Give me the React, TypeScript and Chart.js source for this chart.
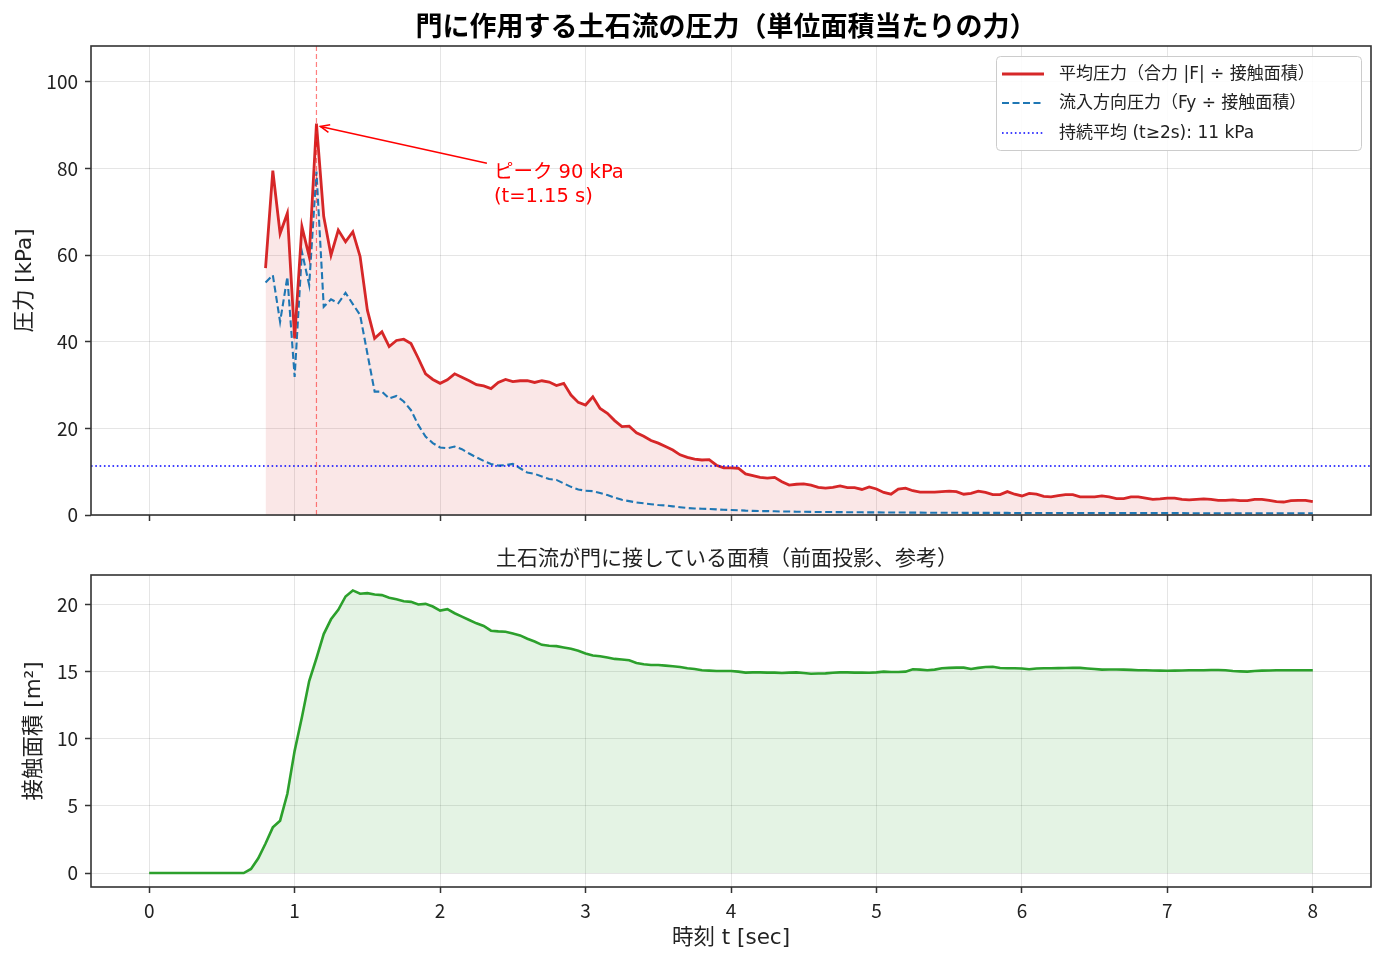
import React, { useEffect, useRef } from "react";
import { Chart, registerables } from "chart.js";

Chart.register(...registerables);

// ---------------- DATA ----------------
const T_AREA = [
  0, 0.05, 0.1, 0.15, 0.2, 0.25, 0.3, 0.35, 0.4, 0.45, 0.5, 0.55, 0.6, 0.65, 0.7, 0.75, 0.8, 0.85, 0.9, 0.95,
  1.0, 1.05, 1.1, 1.15, 1.2, 1.25, 1.3, 1.35, 1.4, 1.45, 1.5, 1.55, 1.6, 1.65, 1.7, 1.75, 1.8, 1.85, 1.9, 1.95,
  2.0, 2.05, 2.1, 2.15, 2.2, 2.25, 2.3, 2.35, 2.4, 2.45, 2.5, 2.55, 2.6, 2.65, 2.7, 2.75, 2.8, 2.85, 2.9, 2.95,
  3.0, 3.05, 3.1, 3.15, 3.2, 3.25, 3.3, 3.35, 3.4, 3.45, 3.5, 3.55, 3.6, 3.65, 3.7, 3.75, 3.8, 3.85, 3.9, 3.95,
  4.0, 4.05, 4.1, 4.15, 4.2, 4.25, 4.3, 4.35, 4.4, 4.45, 4.5, 4.55, 4.6, 4.65, 4.7, 4.75, 4.8, 4.85, 4.9, 4.95,
  5.0, 5.05, 5.1, 5.15, 5.2, 5.25, 5.3, 5.35, 5.4, 5.45, 5.5, 5.55, 5.6, 5.65, 5.7, 5.75, 5.8, 5.85, 5.9, 5.95,
  6.0, 6.05, 6.1, 6.15, 6.2, 6.25, 6.3, 6.35, 6.4, 6.45, 6.5, 6.55, 6.6, 6.65, 6.7, 6.75, 6.8, 6.85, 6.9, 6.95,
  7.0, 7.05, 7.1, 7.15, 7.2, 7.25, 7.3, 7.35, 7.4, 7.45, 7.5, 7.55, 7.6, 7.65, 7.7, 7.75, 7.8, 7.85, 7.9, 7.95,
  8.0,
];

// pressure samples start at t = 0.8 s
const T_PRESSURE = T_AREA.slice(16);

// 平均圧力（合力 |F| ÷ 接触面積） [kPa]
const P_MEAN = [
  57.0, 79.5, 65.0, 69.7, 40.8, 66.6, 59.7, 90.4, 68.9, 60.0, 65.8, 63.1, 65.4, 59.7, 47.3, 40.8, 42.3, 38.9, 40.3, 40.6,
  39.6, 36.2, 32.6, 31.3, 30.4, 31.2, 32.6, 31.8, 31.0, 30.1, 29.8, 29.2, 30.6, 31.3, 30.8, 31.0, 31.0, 30.6, 31.0, 30.7,
  29.9, 30.4, 27.7, 26.0, 25.4, 27.3, 24.6, 23.5, 21.8, 20.4, 20.5, 19.0, 18.2, 17.2, 16.6, 15.8, 15.0, 13.9, 13.3, 12.9,
  12.7, 12.8, 11.5, 10.9, 10.9, 10.8, 9.5, 9.1, 8.7, 8.5, 8.7, 7.7, 6.9, 7.1, 7.2, 6.9, 6.4, 6.2, 6.4, 6.7,
  6.3, 6.3, 5.9, 6.5, 6.0, 5.2, 4.8, 6.0, 6.2, 5.6, 5.3, 5.3, 5.3, 5.4, 5.5, 5.4, 4.8, 5.0, 5.5, 5.2,
  4.7, 4.7, 5.4, 4.8, 4.4, 5.0, 4.8, 4.3, 4.2, 4.5, 4.7, 4.7, 4.2, 4.2, 4.2, 4.4, 4.2, 3.8, 3.8, 4.2,
  4.2, 3.9, 3.6, 3.7, 3.9, 3.9, 3.6, 3.5, 3.6, 3.7, 3.6, 3.4, 3.4, 3.5, 3.3, 3.3, 3.6, 3.6, 3.4, 3.1,
  3.0, 3.3, 3.4, 3.4, 3.1,
];

// 流入方向圧力（Fy ÷ 接触面積） [kPa]
const P_FLOW = [
  53.7, 55.4, 44.6, 55.0, 31.9, 60.8, 53.1, 79.3, 48.1, 49.8, 48.9, 51.3, 48.7, 46.2, 37.3, 28.5, 28.5, 26.9, 27.5, 26.2,
  24.2, 20.8, 18.1, 16.6, 15.6, 15.4, 15.8, 15.2, 14.2, 13.3, 12.5, 11.8, 11.4, 11.5, 11.8, 10.8, 9.8, 9.5, 8.9, 8.3,
  8.1, 7.3, 6.5, 5.9, 5.6, 5.5, 5.1, 4.6, 4.0, 3.5, 3.2, 2.9, 2.7, 2.5, 2.3, 2.2, 2.0, 1.8, 1.6, 1.5,
  1.45, 1.4, 1.3, 1.2, 1.15, 1.1, 1.0, 0.95, 0.9, 0.9, 0.85, 0.8, 0.8, 0.75, 0.75, 0.72, 0.7, 0.7, 0.68, 0.66,
  0.65, 0.63, 0.62, 0.6, 0.6, 0.58, 0.57, 0.56, 0.56, 0.55, 0.54, 0.53, 0.53, 0.52, 0.52, 0.51, 0.5, 0.5, 0.5, 0.49,
  0.48, 0.48, 0.48, 0.47, 0.47, 0.47, 0.46, 0.46, 0.46, 0.46, 0.45, 0.45, 0.45, 0.45, 0.45, 0.44, 0.44, 0.44, 0.44, 0.44,
  0.44, 0.43, 0.43, 0.43, 0.43, 0.43, 0.43, 0.42, 0.42, 0.42, 0.42, 0.42, 0.42, 0.42, 0.41, 0.41, 0.41, 0.41, 0.41, 0.41,
  0.41, 0.4, 0.4, 0.4, 0.4,
];

// 接触面積 [m²]
const AREA = [
  0, 0, 0, 0, 0, 0, 0, 0, 0, 0, 0, 0, 0, 0, 0.3, 1.1, 2.2, 3.4, 3.9, 5.9,
  9.1, 11.6, 14.3, 16.0, 17.8, 18.9, 19.6, 20.6, 21.05, 20.8, 20.85, 20.75, 20.7, 20.5, 20.4, 20.25, 20.2, 20.0, 20.05, 19.85,
  19.55, 19.65, 19.35, 19.1, 18.85, 18.6, 18.4, 18.05, 18.0, 17.97, 17.85, 17.7, 17.45, 17.25, 17.0, 16.93, 16.9, 16.8, 16.7, 16.55,
  16.35, 16.2, 16.15, 16.05, 15.95, 15.9, 15.85, 15.65, 15.55, 15.5, 15.5, 15.45, 15.4, 15.35, 15.25, 15.2, 15.1, 15.08, 15.05, 15.05,
  15.05, 15.0, 14.93, 14.95, 14.95, 14.93, 14.93, 14.9, 14.93, 14.95, 14.9, 14.84, 14.86, 14.87, 14.92, 14.95, 14.95, 14.93, 14.93, 14.92,
  14.95, 15.0, 14.98, 14.97, 15.0, 15.18, 15.15, 15.1, 15.15, 15.26, 15.28, 15.3, 15.3, 15.2, 15.28, 15.35, 15.36, 15.27, 15.25, 15.25,
  15.24, 15.18, 15.24, 15.25, 15.25, 15.26, 15.27, 15.28, 15.28, 15.24, 15.2, 15.15, 15.16, 15.16, 15.15, 15.13, 15.1, 15.1, 15.09, 15.08,
  15.07, 15.08, 15.09, 15.1, 15.1, 15.1, 15.12, 15.12, 15.1, 15.05, 15.02, 15.0, 15.05, 15.08, 15.09, 15.1, 15.1, 15.1, 15.1, 15.1,
  15.1,
];

const PEAK_T = 1.15;
const PEAK_P = 90.4;
const SUSTAINED_MEAN = 11.3;

const X_TICKS = [0, 1, 2, 3, 4, 5, 6, 7, 8];
const Y1_TICKS = [0, 20, 40, 60, 80, 100];
const Y2_TICKS = [0, 5, 10, 15, 20];

const TITLE = "門に作用する土石流の圧力（単位面積当たりの力）";
const SUBTITLE = "土石流が門に接している面積（前面投影、参考）";
const LEGEND_LABELS = [
  "平均圧力（合力 |F| ÷ 接触面積）",
  "流入方向圧力（Fy ÷ 接触面積）",
  "持続平均 (t≥2s): 11 kPa",
];
const ANNOT_LINES = ["ピーク 90 kPa", "(t=1.15 s)"];

// ---------------- STYLE ----------------
const CJK = "'Noto Sans CJK JP', 'Noto Sans', sans-serif";
const MIXED = "'DejaVu Sans', 'Noto Sans CJK JP', sans-serif";
const TXT = "#222222";
const SPINE = "#333333";
const GRID = "rgba(0,0,0,0.10)";
const RED = "#d62728";
const BLUE = "#1f77b4";
const GREEN = "#2ca02c";

const W = 1385;
const H1 = 540;
const H2 = 425;
const TICK_SIZE = 19;
const LABEL_SIZE = 21.5;

function frame(chart: any) {
  const { ctx, chartArea: a } = chart;
  ctx.save();
  ctx.strokeStyle = SPINE;
  ctx.lineWidth = 1.6;
  ctx.strokeRect(a.left, a.top, a.right - a.left, a.bottom - a.top);
  ctx.restore();
}

const topOverlay = {
  id: "topOverlay",
  afterDatasetsDraw(chart: any) {
    const { ctx, chartArea: a, scales } = chart;
    const xs = scales.x;
    const ys = scales.y;
    ctx.save();
    // sustained mean line
    const yh = ys.getPixelForValue(SUSTAINED_MEAN);
    ctx.strokeStyle = "#0000ff";
    ctx.lineWidth = 1.6;
    ctx.setLineDash([1.6, 2.7]);
    ctx.beginPath();
    ctx.moveTo(a.left, yh);
    ctx.lineTo(a.right, yh);
    ctx.stroke();
    // peak marker
    const xp = xs.getPixelForValue(PEAK_T);
    ctx.strokeStyle = "rgba(255,0,0,0.5)";
    ctx.lineWidth = 1.2;
    ctx.setLineDash([5, 3]);
    ctx.beginPath();
    ctx.moveTo(xp, a.top);
    ctx.lineTo(xp, a.bottom);
    ctx.stroke();
    ctx.restore();
  },
  afterDraw(chart: any) {
    const { ctx, chartArea: a, scales } = chart;
    frame(chart);
    const xs = scales.x;
    const ys = scales.y;
    ctx.save();
    // title
    ctx.fillStyle = "#000";
    ctx.font = `bold 27px ${CJK}`;
    ctx.textAlign = "center";
    ctx.textBaseline = "middle";
    ctx.fillText(TITLE, (a.left + a.right) / 2 - 5, 26);

    // annotation
    const px = xs.getPixelForValue(PEAK_T);
    const py = ys.getPixelForValue(PEAK_P);
    const tx = xs.getPixelForValue(2.37);
    const ty = ys.getPixelForValue(79.4) + 2;
    ctx.fillStyle = "#ff0000";
    ctx.font = `19.5px ${MIXED}`;
    ctx.textAlign = "left";
    ctx.fillText(ANNOT_LINES[0], tx, ty);
    ctx.fillText(ANNOT_LINES[1], tx, ty + 24);
    const sx = tx - 7;
    const sy = ty - 10;
    const ang = Math.atan2(py - sy, px - sx);
    const ex = px - Math.cos(ang) * 4;
    const ey = py - Math.sin(ang) * 4 + 2;
    ctx.strokeStyle = "#ff0000";
    ctx.lineWidth = 1.5;
    ctx.beginPath();
    ctx.moveTo(sx, sy);
    ctx.lineTo(ex, ey);
    ctx.stroke();
    const hl = 10;
    const hw = 0.4;
    ctx.beginPath();
    ctx.moveTo(ex - hl * Math.cos(ang - hw), ey - hl * Math.sin(ang - hw));
    ctx.lineTo(ex, ey);
    ctx.lineTo(ex - hl * Math.cos(ang + hw), ey - hl * Math.sin(ang + hw));
    ctx.stroke();

    // legend
    const lx = a.right - 375;
    const ly = a.top + 10;
    const lw = 365;
    const lh = 94;
    ctx.fillStyle = "rgba(255,255,255,0.85)";
    ctx.strokeStyle = "#cccccc";
    ctx.lineWidth = 1;
    ctx.beginPath();
    (ctx as any).roundRect(lx + 0.5, ly + 0.5, lw, lh, 4);
    ctx.fill();
    ctx.stroke();
    const rows = [ly + 18, ly + 47, ly + 77];
    const styles = [
      { c: RED, w: 2.8, d: [] as number[] },
      { c: BLUE, w: 2.1, d: [7, 3.5] },
      { c: "#0000ff", w: 1.6, d: [1.6, 2.7] },
    ];
    rows.forEach((ry, i) => {
      ctx.strokeStyle = styles[i].c;
      ctx.lineWidth = styles[i].w;
      ctx.setLineDash(styles[i].d);
      ctx.beginPath();
      ctx.moveTo(lx + 6, ry);
      ctx.lineTo(lx + 48, ry);
      ctx.stroke();
      ctx.setLineDash([]);
      ctx.fillStyle = TXT;
      ctx.font = `17px ${MIXED}`;
      ctx.textAlign = "left";
      ctx.textBaseline = "middle";
      ctx.fillText(LEGEND_LABELS[i], lx + 63, ry + 1);
    });
    ctx.restore();
  },
};

const bottomOverlay = {
  id: "bottomOverlay",
  afterDraw(chart: any) {
    const { ctx, chartArea: a } = chart;
    frame(chart);
    ctx.save();
    ctx.fillStyle = TXT;
    ctx.font = `21px ${CJK}`;
    ctx.textAlign = "center";
    ctx.textBaseline = "middle";
    ctx.fillText(SUBTITLE, (a.left + a.right) / 2 - 4, 17);
    ctx.restore();
  },
};

function gridOpts() {
  return {
    color: GRID,
    lineWidth: 1,
    tickColor: SPINE,
    tickLength: 6,
    tickWidth: 1.5,
    drawTicks: true,
  };
}

export default function App() {
  const c1 = useRef<HTMLCanvasElement>(null);
  const c2 = useRef<HTMLCanvasElement>(null);

  useEffect(() => {
    Chart.defaults.font.family = CJK;
    Chart.defaults.color = TXT;

    const meanPts = T_PRESSURE.map((t, i) => ({ x: t, y: P_MEAN[i] }));
    const flowPts = T_PRESSURE.map((t, i) => ({ x: t, y: P_FLOW[i] }));
    const areaPts = T_AREA.map((t, i) => ({ x: t, y: AREA[i] }));

    const tickFont = { family: CJK, size: TICK_SIZE };
    const labelFont = { family: MIXED, size: LABEL_SIZE };

    const chart1 = new Chart(c1.current as HTMLCanvasElement, {
      type: "line",
      data: {
        datasets: [
          {
            label: LEGEND_LABELS[0],
            data: meanPts,
            borderColor: RED,
            borderWidth: 2.8,
            backgroundColor: "rgba(214,39,40,0.11)",
            fill: "origin",
            pointRadius: 0,
            tension: 0,
          },
          {
            label: LEGEND_LABELS[1],
            data: flowPts,
            borderColor: BLUE,
            borderWidth: 2.1,
            borderDash: [7, 3.5],
            fill: false,
            pointRadius: 0,
            tension: 0,
          },
        ],
      },
      options: {
        animation: false,
        responsive: false,
        devicePixelRatio: 1,
        layout: { padding: { top: 46, right: 14, left: 0, bottom: 0 } },
        plugins: {
          legend: { display: false },
          tooltip: { enabled: false },
          filler: { drawTime: "beforeDatasetsDraw" },
        } as any,
        scales: {
          x: {
            type: "linear",
            min: -0.4,
            max: 8.4,
            afterBuildTicks: (s: any) => {
              s.ticks = X_TICKS.map((v) => ({ value: v }));
            },
            afterFit: (s: any) => {
              s.height = 25;
            },
            ticks: { display: false },
            grid: gridOpts(),
            border: { display: false },
          },
          y: {
            type: "linear",
            min: 0,
            max: 108.3,
            afterBuildTicks: (s: any) => {
              s.ticks = Y1_TICKS.map((v) => ({ value: v }));
            },
            afterFit: (s: any) => {
              s.width = 91;
            },
            ticks: { font: tickFont, padding: 7, color: TXT },
            grid: gridOpts(),
            border: { display: false },
            title: {
              display: true,
              text: "圧力 [kPa]",
              font: labelFont,
              color: TXT,
              padding: { top: 13, bottom: 0 },
            },
          },
        },
      } as any,
      plugins: [topOverlay],
    });

    const chart2 = new Chart(c2.current as HTMLCanvasElement, {
      type: "line",
      data: {
        datasets: [
          {
            label: "接触面積",
            data: areaPts,
            borderColor: GREEN,
            borderWidth: 2.6,
            backgroundColor: "rgba(44,160,44,0.13)",
            fill: "origin",
            pointRadius: 0,
            tension: 0,
          },
        ],
      },
      options: {
        animation: false,
        responsive: false,
        devicePixelRatio: 1,
        layout: { padding: { top: 35, right: 14, left: 0, bottom: 0 } },
        plugins: {
          legend: { display: false },
          tooltip: { enabled: false },
        },
        scales: {
          x: {
            type: "linear",
            min: -0.4,
            max: 8.4,
            afterBuildTicks: (s: any) => {
              s.ticks = X_TICKS.map((v) => ({ value: v }));
            },
            afterFit: (s: any) => {
              s.height = 78;
            },
            ticks: { font: tickFont, padding: 6, color: TXT, maxRotation: 0 },
            grid: gridOpts(),
            border: { display: false },
            title: {
              display: true,
              text: "時刻 t [sec]",
              font: labelFont,
              color: TXT,
              padding: { top: 0, bottom: 14 },
            },
          },
          y: {
            type: "linear",
            min: -1.04,
            max: 22.2,
            afterBuildTicks: (s: any) => {
              s.ticks = Y2_TICKS.map((v) => ({ value: v }));
            },
            afterFit: (s: any) => {
              s.width = 91;
            },
            ticks: { font: tickFont, padding: 7, color: TXT },
            grid: gridOpts(),
            border: { display: false },
            title: {
              display: true,
              text: "接触面積 [m²]",
              font: labelFont,
              color: TXT,
              padding: { top: 22, bottom: 0 },
            },
          },
        },
      } as any,
      plugins: [bottomOverlay],
    });

    return () => {
      chart1.destroy();
      chart2.destroy();
    };
  }, []);

  return (
    <div
      style={{
        position: "absolute",
        left: 0,
        top: 0,
        width: W,
        height: H1 + H2,
        background: "#ffffff",
      }}
    >
      <canvas
        ref={c1}
        width={W}
        height={H1}
        style={{ position: "absolute", left: 0, top: 0, width: W, height: H1 }}
      />
      <canvas
        ref={c2}
        width={W}
        height={H2}
        style={{ position: "absolute", left: 0, top: H1, width: W, height: H2 }}
      />
    </div>
  );
}
